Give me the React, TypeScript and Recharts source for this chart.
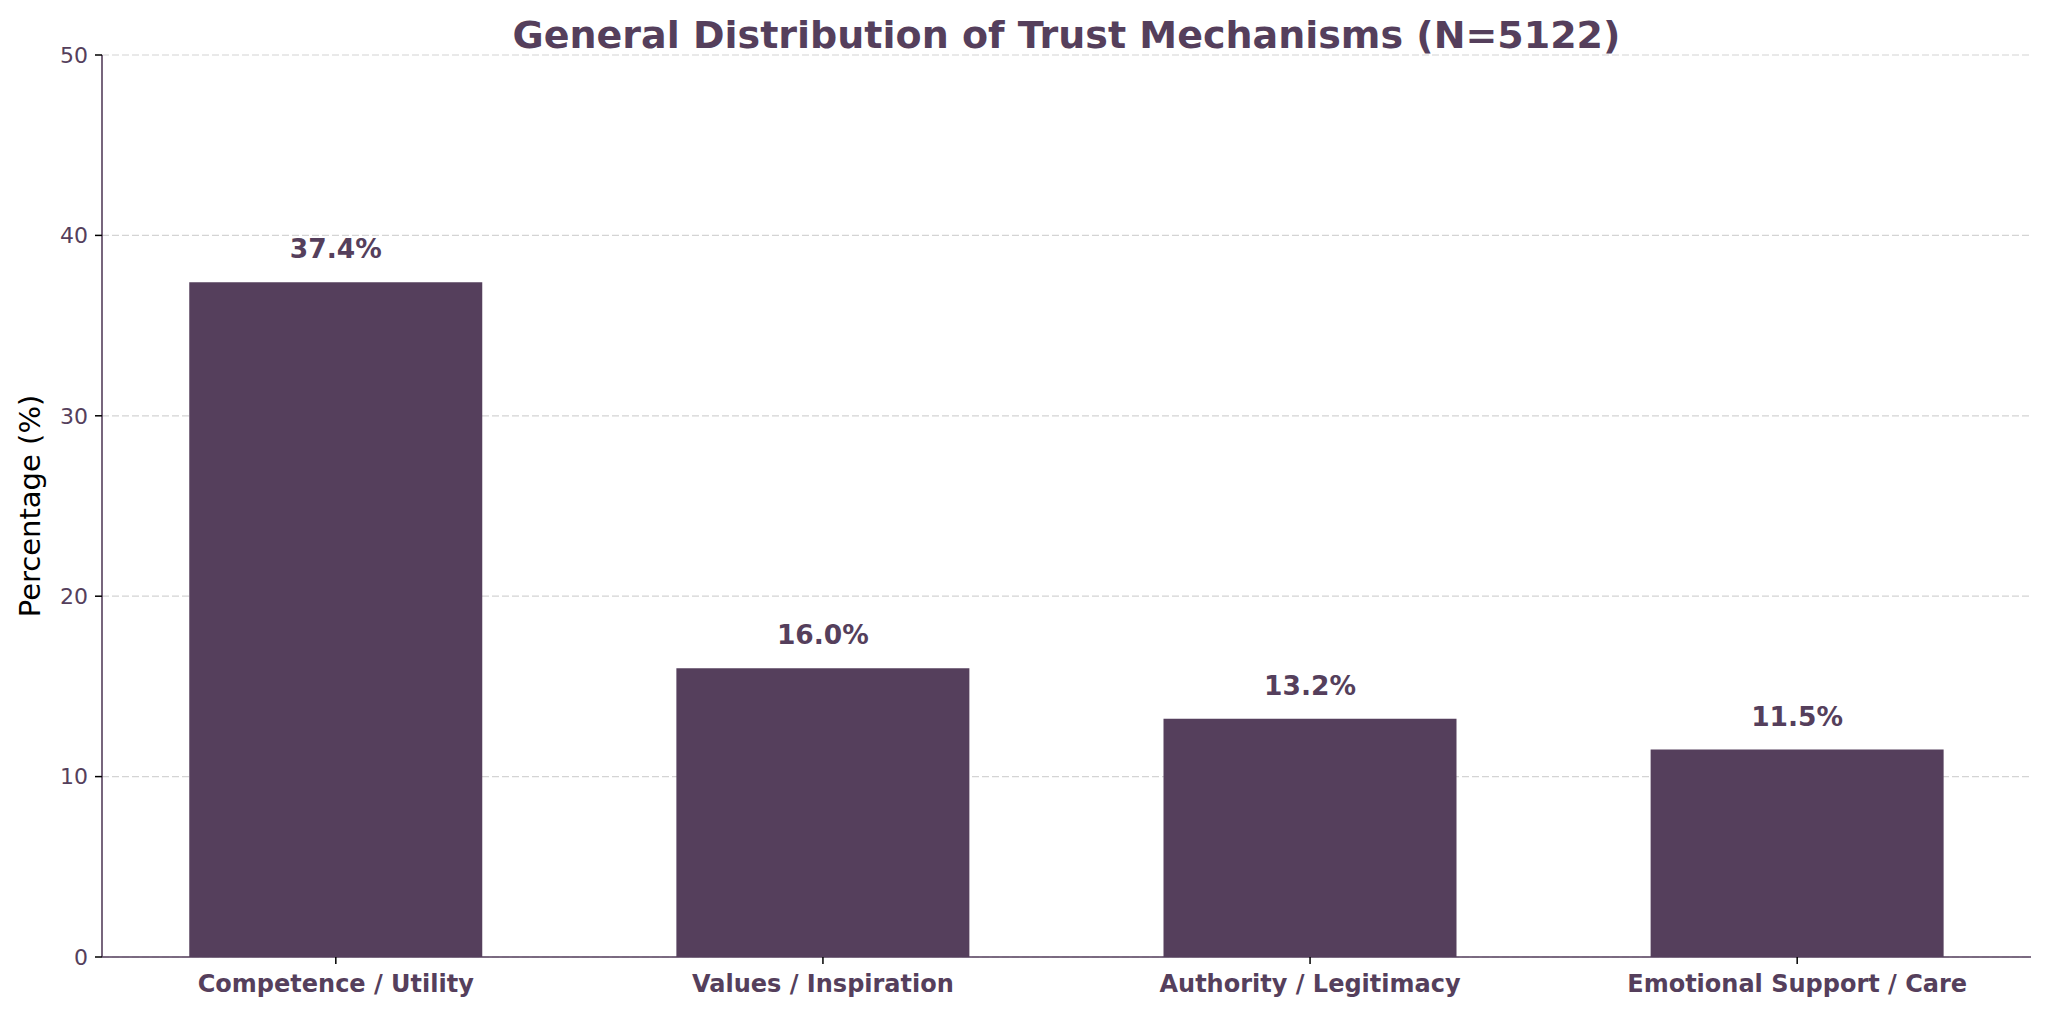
import React from "react";
import {
  BarChart, Bar, XAxis, YAxis, CartesianGrid, LabelList,
} from "recharts";

const categories = [
  "Competence / Utility",
  "Values / Inspiration",
  "Authority / Legitimacy",
  "Emotional Support / Care",
];
const percentages = [37.4, 16.0, 13.2, 11.5];
const yTicks = [0, 10, 20, 30, 40, 50];

const PURPLE = "#553f5c";
const FONT = "'DejaVu Sans', sans-serif";

const data = categories.map((name, i) => ({ idx: i, name, value: percentages[i] }));

export default function App() {
  return (
    <div style={{ position: "absolute", left: 0, top: 0, width: 2048, height: 1015, background: "#fff", fontFamily: FONT }}>
      <div
        style={{
          position: "absolute", left: 0, width: 2133, top: 13, textAlign: "center",
          fontSize: 38, fontWeight: "bold", color: PURPLE, lineHeight: "44px",
        }}
      >
        General Distribution of Trust Mechanisms (N=5122)
      </div>
      <BarChart
        width={2048}
        height={1015}
        data={data}
        margin={{ top: 55, right: 17, left: 0, bottom: 0 }}
      >
        <CartesianGrid
          horizontal
          vertical={false}
          stroke="#d4d4d4"
          strokeDasharray="7 3"
          strokeWidth={1.2}
        />
        <XAxis
          type="number"
          dataKey="idx"
          domain={[-0.48, 3.48]}
          ticks={[0, 1, 2, 3]}
          allowDataOverflow
          height={58}
          tickFormatter={(v: number) => categories[v] ?? ""}
          tick={{ fontSize: 24, fontWeight: "bold", fill: PURPLE, fontFamily: FONT }}
          tickLine={{ stroke: "#000", strokeWidth: 1.5 }}
          tickSize={7}
          tickMargin={11}
          axisLine={{ stroke: PURPLE, strokeWidth: 1.6 }}
          interval={0}
        />
        <YAxis
          domain={[0, 50]}
          ticks={yTicks}
          width={102}
          tick={{ fontSize: 22, fill: PURPLE, fontFamily: FONT }}
          tickLine={{ stroke: "#000", strokeWidth: 1.5 }}
          tickSize={7}
          tickMargin={7}
          axisLine={{ stroke: PURPLE, strokeWidth: 1.6 }}
          label={(props: any) => {
            const vb = props.viewBox || { x: 0, y: 55, width: 102, height: 902 };
            const x = 30;
            const y = vb.y + vb.height / 2;
            return (
              <text
                x={x}
                y={y}
                transform={`rotate(-90, ${x}, ${y})`}
                textAnchor="middle"
                dominantBaseline="central"
                fontSize={29}
                fill="#000"
                fontFamily={FONT}
              >
                Percentage (%)
              </text>
            );
          }}
        />
        <Bar dataKey="value" fill={PURPLE} barSize={293} isAnimationActive={false}>
          <LabelList
            dataKey="value"
            position="top"
            offset={24}
            formatter={(v: any) => `${Number(v).toFixed(1)}%`}
            fill={PURPLE}
            fontSize={26.5}
            fontWeight="bold"
            fontFamily={FONT}
          />
        </Bar>
      </BarChart>
    </div>
  );
}
